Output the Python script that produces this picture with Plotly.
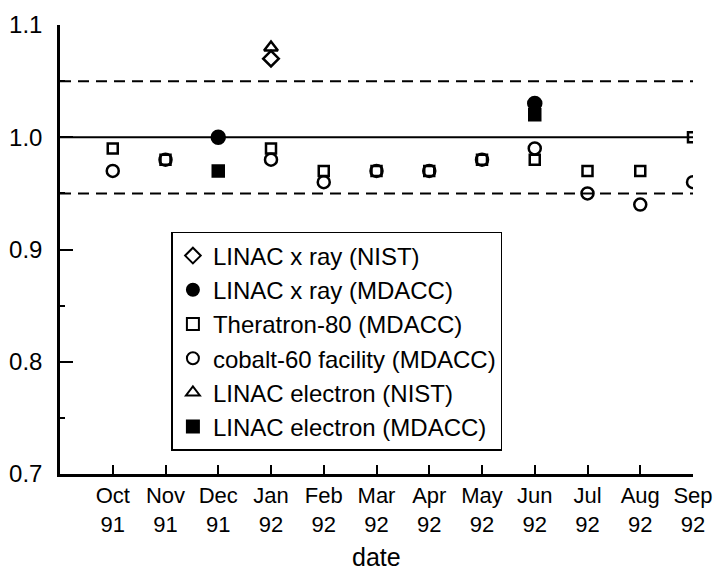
import plotly.graph_objects as go

# Monthly calibration ratios, Oct 1991 - Sep 1992
months = ["Oct<br>91", "Nov<br>91", "Dec<br>91", "Jan<br>92", "Feb<br>92", "Mar<br>92",
          "Apr<br>92", "May<br>92", "Jun<br>92", "Jul<br>92", "Aug<br>92", "Sep<br>92"]

linac_xray_nist = [None, None, None, 1.07, None, None, None, None, None, None, None, None]
linac_xray_mdacc = [None, None, 1.00, None, None, None, None, None, 1.03, None, None, None]
theratron_mdacc = [0.99, 0.98, None, 0.99, 0.97, 0.97, 0.97, 0.98, 0.98, 0.97, 0.97, 1.00]
cobalt_mdacc = [0.97, 0.98, None, 0.98, 0.96, 0.97, 0.97, 0.98, 0.99, 0.95, 0.94, 0.96]
linac_e_nist = [None, None, None, 1.08, None, None, None, None, None, None, None, None]
linac_e_mdacc = [None, None, 0.97, None, None, None, None, None, 1.02, None, None, None]

series_names = ["LINAC x ray (NIST)", "LINAC x ray (MDACC)", "Theratron-80 (MDACC)",
                "cobalt-60 facility (MDACC)", "LINAC electron (NIST)", "LINAC electron (MDACC)"]
series_values = [linac_xray_nist, linac_xray_mdacc, theratron_mdacc,
                 cobalt_mdacc, linac_e_nist, linac_e_mdacc]
series_symbols = ["diamond-open", "circle", "square-open", "circle-open", "triangle-up-open", "square"]
series_sizes = [12, 13, 10, 12, 12, 11]

# Nominal ratio and +/-5 % tolerance band
nominal = 1.0
tolerance_band = [1.05, 0.95]

y_ticks = [0.7, 0.8, 0.9, 1.0, 1.1]
y_tick_text = ["0.7", "0.8", "0.9", "1.0", "1.1"]
x_title = "date"

FONT = "Liberation Sans, Arial, Helvetica, sans-serif"

fig = go.Figure()
for name, vals, sym, sz in zip(series_names, series_values, series_symbols, series_sizes):
    fig.add_trace(go.Scatter(
        x=months, y=vals, mode="markers", name=name,
        marker=dict(symbol=sym, size=sz, color="black",
                    line=dict(color="black", width=2.5)),
    ))

fig.add_hline(y=nominal, line=dict(color="black", width=2), layer="below")
for lvl in tolerance_band:
    fig.add_hline(y=lvl, line=dict(color="black", width=2, dash="11px,7px"), layer="below")

# Axis title placed below the two-line month labels
fig.add_annotation(text=x_title, xref="paper", yref="paper", x=0.5, y=0,
                   yshift=-83, yanchor="middle", showarrow=False,
                   font=dict(family=FONT, size=25, color="black"))

fig.update_layout(
    width=713, height=572,
    margin=dict(l=60, r=20, t=25, b=98),
    paper_bgcolor="white", plot_bgcolor="white",
    font=dict(family=FONT, color="black", size=22),
    showlegend=True,
    legend=dict(
        x=0.176, y=0.539, xanchor="left", yanchor="top",
        bgcolor="white", bordercolor="black", borderwidth=1.5,
        font=dict(family=FONT, size=24, color="black"),
        itemsizing="constant", tracegroupgap=0,
    ),
    xaxis=dict(
        type="category", categoryorder="array", categoryarray=months,
        range=[-1, 11], showgrid=False, zeroline=False, automargin=False,
        showline=True, linecolor="black", linewidth=2.5,
        ticks="inside", ticklen=9, tickwidth=2, tickcolor="black",
        tickfont=dict(family=FONT, size=22, color="black"),
    ),
    yaxis=dict(
        range=[0.7, 1.1], showgrid=False, zeroline=False, automargin=False,
        showline=True, linecolor="black", linewidth=2.5,
        tickvals=y_ticks, ticktext=y_tick_text,
        ticks="inside", ticklen=13, tickwidth=2, tickcolor="black",
        ticklabelstandoff=10,
        minor=dict(dtick=0.05, ticks="inside", ticklen=5, tickwidth=1.5, tickcolor="black"),
        tickfont=dict(family=FONT, size=24, color="black"),
    ),
)

fig.write_html("out.html")
